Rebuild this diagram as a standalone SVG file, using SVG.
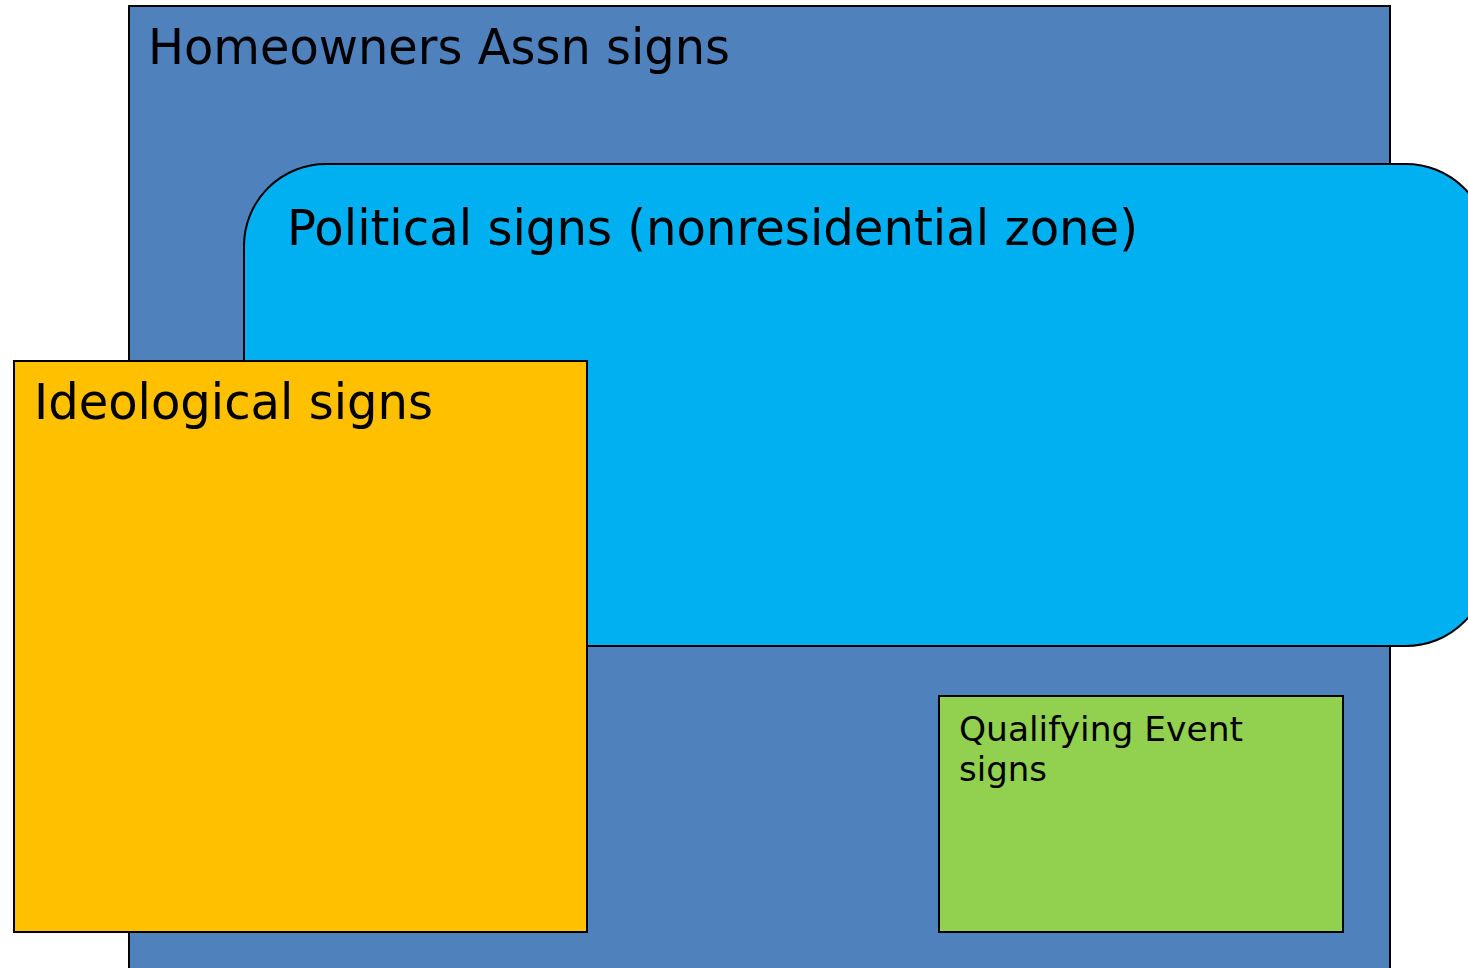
<svg xmlns="http://www.w3.org/2000/svg" width="1468" height="968" viewBox="0 0 1468 968">
  <style>
    .box { stroke: #000; stroke-width: 2; }
    .lbl { font-family: "DejaVu Sans", Verdana, sans-serif; fill: #000; }
  </style>
  <rect width="1468" height="968" fill="#fff"/>
  <g id="homeowners">
    <rect class="box" x="129" y="6" width="1261" height="980" fill="#4F81BD"/>
    <text class="lbl" x="148" y="64" font-size="49" textLength="582" lengthAdjust="spacingAndGlyphs">Homeowners Assn signs</text>
  </g>
  <g id="political">
    <rect class="box" x="244" y="164" width="1244" height="482" rx="82" ry="82" fill="#00B0F0"/>
    <text class="lbl" x="287" y="245" font-size="49" textLength="851" lengthAdjust="spacingAndGlyphs">Political signs (nonresidential zone)</text>
  </g>
  <g id="ideological">
    <rect class="box" x="14" y="361" width="573" height="571" fill="#FFC000"/>
    <text class="lbl" x="34" y="419" font-size="49" textLength="399" lengthAdjust="spacingAndGlyphs">Ideological signs</text>
  </g>
  <g id="qualifying">
    <rect class="box" x="939" y="696" width="404" height="236" fill="#92D050"/>
    <text class="lbl" x="959" y="741" font-size="34" textLength="284" lengthAdjust="spacingAndGlyphs">Qualifying Event</text>
    <text class="lbl" x="959" y="781" font-size="34">signs</text>
  </g>
  <g id="connectors"/>
</svg>
